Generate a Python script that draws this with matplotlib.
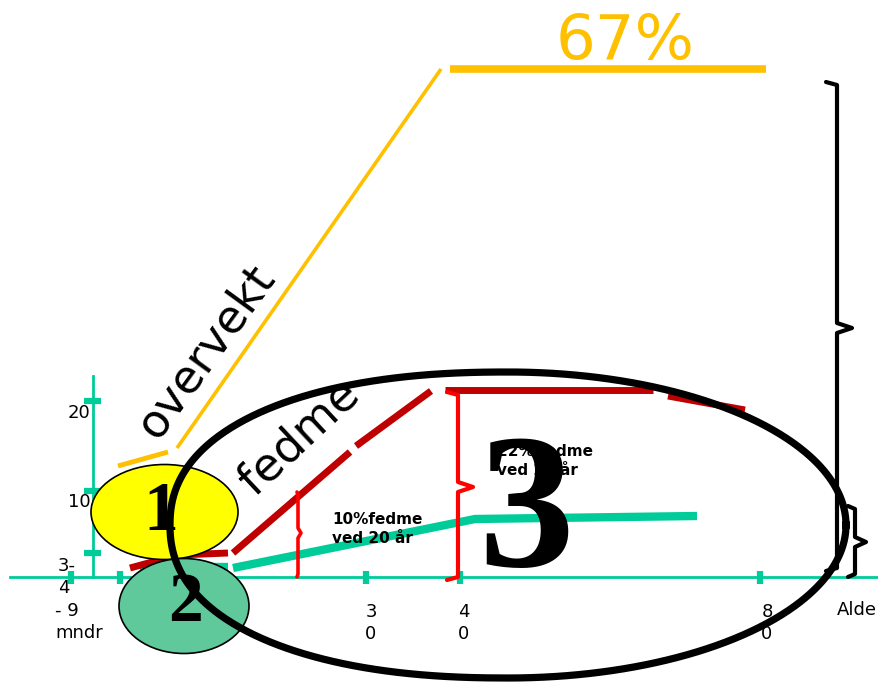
import numpy as np
import matplotlib.pyplot as plt
from matplotlib.patches import Ellipse

# diagram drawn in picture units: x to the right, y downwards (0..879, 0..684)
W, H = 879, 684

GREEN = '#00CC99'
GREEN_FILL = '#5FC99B'
YELLOW = '#FFFF00'
ORANGE = '#FFC000'
DARK_RED = '#C00000'
RED = '#FF0000'

# axes
axis_origin = (93, 577)
yaxis_top = 376
xaxis_span = (10, 879)
ytick_pos = [401, 491, 553]
ytick_labels = ['20', '10', '3-\n4']
ytick_label_pos = [(68, 413), (68, 502), (58, 577)]
xtick_pos = [71, 120, 366, 460, 760]
xtick_labels = ['- 9\nmndr', '3\n0', '4\n0', '8\n0']
xtick_label_pos = [(55, 622), (371, 623), (464, 623), (767, 623)]
xtick_label_ha = ['left', 'center', 'center', 'center']
xaxis_title = 'Alde'

# green series (normal weight)
green_left_x = [140, 228]
green_left_y = [567, 567]
green_x = [233, 475, 697]
green_y = [568, 519, 516]

# dark red series (obese), dashed
red_segments = [
    ([130, 178, 228], [568, 555, 553]),
    ([233, 350], [553, 452]),
    ([356, 431], [446, 391]),
    ([445, 653], [390, 390]),
    ([668, 745], [396, 410]),
]

# orange series (overweight)
orange_short = ([118, 168], [466, 452])
orange_rise = ([177, 441], [448, 69])
orange_top = ([450, 766], [69, 69])

# braces: (x, y_top, y_mid, y_bottom, hook, bump)
black_braces = [(837, 82, 328, 571, -11, 15), (855, 506, 542, 577, -7, 11)]
red_braces = [(458, 392, 487, 580, -11, 15, 3.0), (298, 492, 533, 577, -1, 3, 2.6)]

# circles: (cx, cy, width, height, colour, label)
blobs = [(164.5, 512, 147, 95, YELLOW, '1', (161, 513)),
         (184, 606, 130, 95, GREEN_FILL, '2', (186, 604))]

# big black outline around phase 3
big_c = (508, 525)
big_a, big_b = 338, 153


def brace(ax, x, yt, ym, yb, hook, bump, color, lw):
    xs = [x + hook, x, x, x + bump, x, x, x + hook]
    ys = [yt, yt + 3, ym - 5, ym, ym + 5, yb - 3, yb]
    ax.plot(xs, ys, color=color, lw=lw, solid_joinstyle='round',
            solid_capstyle='round', zorder=6)


fig = plt.figure(figsize=(W / 100, H / 100), dpi=100)
ax = fig.add_axes([0, 0, 1, 1])
ax.set_xlim(0, W)
ax.set_ylim(H, 0)
ax.axis('off')

# axes lines and ticks
ox, oy = axis_origin
ax.plot([ox, ox], [yaxis_top, oy], color=GREEN, lw=2, zorder=1)
ax.plot(xaxis_span, [oy, oy], color=GREEN, lw=2, zorder=1)
for yt in ytick_pos:
    ax.plot([ox - 9, ox + 8], [yt, yt], color=GREEN, lw=4.5, solid_capstyle='butt', zorder=1)
for xt in xtick_pos:
    ax.plot([xt, xt], [oy - 6, oy + 7], color=GREEN, lw=4.5, solid_capstyle='butt', zorder=1)
for lab, (tx, ty) in zip(ytick_labels, ytick_label_pos):
    ax.text(tx, ty, lab, fontsize=13, ha='left', va='center',
            linespacing=1.3, zorder=2)
for lab, (tx, ty), ha in zip(xtick_labels, xtick_label_pos, xtick_label_ha):
    ax.text(tx, ty, lab, fontsize=13, ha=ha, va='center', linespacing=1.3,
            multialignment='left', zorder=2)
ax.text(877, 610, xaxis_title, fontsize=13, ha='right', va='center', zorder=2)

# series lines
ax.plot(green_left_x, green_left_y, color=GREEN, lw=6, solid_capstyle='butt', zorder=3)
ax.plot(green_x, green_y, color=GREEN, lw=6, solid_capstyle='butt', zorder=3)
for xs, ys in red_segments:
    ax.plot(xs, ys, color=DARK_RED, lw=5, solid_capstyle='butt', zorder=3)
ax.plot(*orange_short, color=ORANGE, lw=3.5, solid_capstyle='butt', zorder=3)
ax.plot(*orange_rise, color=ORANGE, lw=2.6, solid_capstyle='butt', zorder=3)
ax.plot(*orange_top, color=ORANGE, lw=5.5, solid_capstyle='butt', zorder=3)
ax.text(625, 42, '67%', color=ORANGE, fontsize=45, ha='center', va='center', zorder=3)

for x, yt, ym, yb, hook, bump, lw in red_braces:
    brace(ax, x, yt, ym, yb, hook, bump, RED, lw)
for x, yt, ym, yb, hook, bump in black_braces:
    brace(ax, x, yt, ym, yb, hook, bump, 'black', 3)

# phase circles
for cx, cy, w, h, col, lab, (lx, ly) in blobs:
    ax.add_patch(Ellipse((cx, cy), w, h, facecolor=col, edgecolor='black', lw=1.2, zorder=4))
    ax.text(lx, ly, lab, fontsize=50, fontfamily='Liberation Serif', fontweight='bold',
            ha='center', va='center', zorder=5)

# big outline, a bit blunter on the left side
t = np.linspace(0, 2 * np.pi, 721)
c, s = np.cos(t), np.sin(t)
pw = np.where(c < 0, 2 / 2.25, 1.0)
ex = big_c[0] + big_a * np.sign(c) * np.abs(c) ** pw
ey = big_c[1] + big_b * np.sign(s) * np.abs(s) ** pw
ax.plot(ex, ey, color='black', lw=5.2, zorder=7)

# labels
ax.text(206, 352, 'overvekt', fontsize=33, rotation=54, ha='center', va='center',
        rotation_mode='anchor', zorder=8)
ax.text(300, 438, 'fedme', fontsize=33, rotation=43, ha='center', va='center',
        rotation_mode='anchor', zorder=8)
ax.text(332, 529, '10%fedme\nved 20 år', fontsize=11, fontweight='bold', ha='left',
        va='center', linespacing=1.4, zorder=8)
ax.text(497, 461, '22% fedme\nved 20 år', fontsize=11, fontweight='bold', ha='left',
        va='center', linespacing=1.4, zorder=8)
ax.text(526, 520, '3', fontsize=138, fontfamily='Liberation Serif', fontweight='bold',
        ha='center', va='center', zorder=9)

fig.savefig('out.png', dpi=100)
